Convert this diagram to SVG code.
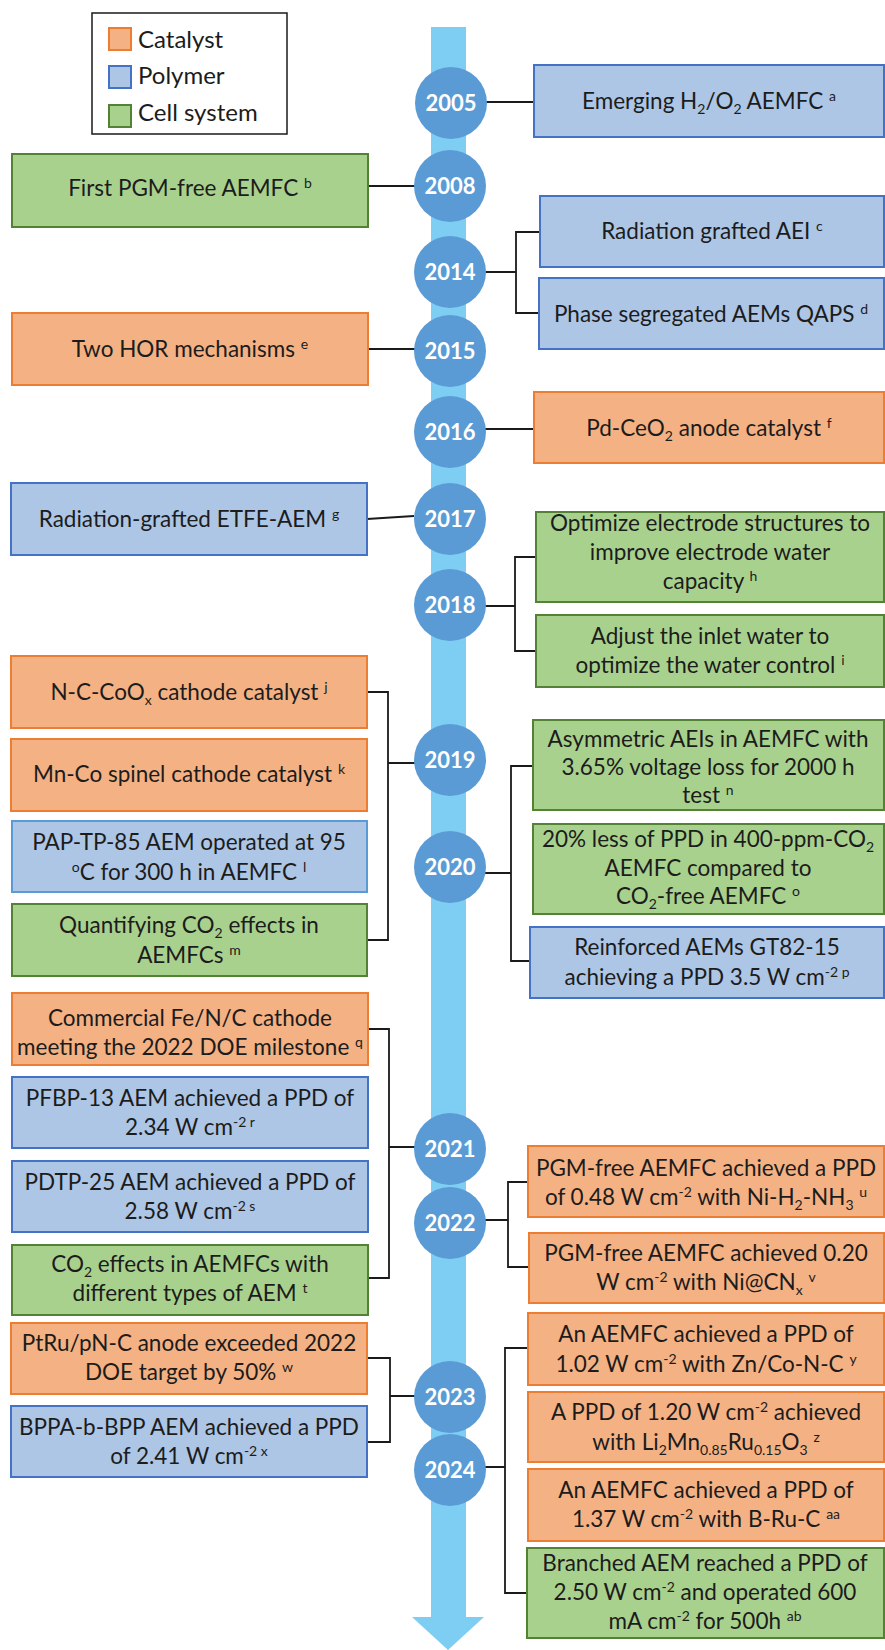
<svg xmlns="http://www.w3.org/2000/svg" width="885" height="1650" viewBox="0 0 885 1650">
<style>
.t{font-family:Lato,"Liberation Sans",sans-serif;font-size:22.5px;fill:#1c1c1c;text-anchor:middle}
.lg{font-family:Lato,"Liberation Sans",sans-serif;font-size:24px;fill:#1c1c1c}
.yr{font-family:Lato,"Liberation Sans",sans-serif;font-weight:bold;font-size:22px;fill:#ffffff;text-anchor:middle}
.cat{fill:#f4b183;stroke:#ed7d31;stroke-width:2}
.pol{fill:#adc6e6;stroke:#4472c4;stroke-width:2}
.pol2{fill:#adc6e6;stroke:#5b9bd5;stroke-width:2}
.cel{fill:#a9d18e;stroke:#548235;stroke-width:2}
.yc{fill:#5b9bd5}
.sp{font-size:14px;baseline-shift:8px}
.sb{font-size:14px;baseline-shift:-5px}
.cn{fill:none;stroke:#1a1a1a;stroke-width:1.8}
.bar{fill:#7ecef4}
</style>

<g id="legend">
<rect x="92" y="13" width="195" height="121" fill="#ffffff" stroke="#1a1a1a" stroke-width="1.5"/>
<rect x="109" y="28" width="22" height="22" class="cat"/>
<rect x="109" y="66" width="22" height="22" class="pol"/>
<rect x="109" y="105" width="22" height="22" class="cel"/>
<text class="lg" x="138" y="48">Catalyst</text>
<text class="lg" x="138" y="84">Polymer</text>
<text class="lg" x="138" y="121">Cell system</text>
</g>

<g id="timeline">
<rect x="431" y="27" width="35" height="1591" class="bar"/>
<polygon points="412,1617 484,1617 448,1650" class="bar"/>
</g>

<g id="connectors">
<path class="cn" d="M450,102 H534"/>
<path class="cn" d="M368,186 H450"/>
<path class="cn" d="M450,272 H516 M540,232 H516 V313 H539"/>
<path class="cn" d="M368,349 H450"/>
<path class="cn" d="M450,429 H534"/>
<path class="cn" d="M367,519 L414,516"/>
<path class="cn" d="M450,606 H515 M536,557 H515 V651 H536"/>
<path class="cn" d="M367,692 H388 V940 H367 M388,763 H450"/>
<path class="cn" d="M450,873 H511 M533,766 H511 V961 H530"/>
<path class="cn" d="M368,1029 H389 V1278 H368 M389,1147 H450"/>
<path class="cn" d="M450,1220 H508 M528,1182 H508 V1267 H529"/>
<path class="cn" d="M367,1358 H390 V1442 H367 M390,1396 H450"/>
<path class="cn" d="M450,1467 H505 M528,1348 H505 V1593 H527"/>
</g>

<g id="y2005"><circle cx="451" cy="103" r="36" class="yc"/><text class="yr" x="451" y="111">2005</text></g>
<g id="y2008"><circle cx="450" cy="186" r="36" class="yc"/><text class="yr" x="450" y="194">2008</text></g>
<g id="y2014"><circle cx="450" cy="272" r="36" class="yc"/><text class="yr" x="450" y="280">2014</text></g>
<g id="y2015"><circle cx="450" cy="351" r="36" class="yc"/><text class="yr" x="450" y="359">2015</text></g>
<g id="y2016"><circle cx="450" cy="432" r="36" class="yc"/><text class="yr" x="450" y="440">2016</text></g>
<g id="y2017"><circle cx="450" cy="519" r="36" class="yc"/><text class="yr" x="450" y="527">2017</text></g>
<g id="y2018"><circle cx="450" cy="605" r="36" class="yc"/><text class="yr" x="450" y="613">2018</text></g>
<g id="y2019"><circle cx="450" cy="760" r="36" class="yc"/><text class="yr" x="450" y="768">2019</text></g>
<g id="y2020"><circle cx="450" cy="867" r="36" class="yc"/><text class="yr" x="450" y="875">2020</text></g>
<g id="y2021"><circle cx="450" cy="1149" r="36" class="yc"/><text class="yr" x="450" y="1157">2021</text></g>
<g id="y2022"><circle cx="450" cy="1223" r="36" class="yc"/><text class="yr" x="450" y="1231">2022</text></g>
<g id="y2023"><circle cx="450" cy="1397" r="36" class="yc"/><text class="yr" x="450" y="1405">2023</text></g>
<g id="y2024"><circle cx="450" cy="1470" r="36" class="yc"/><text class="yr" x="450" y="1478">2024</text></g>

<g id="n2005"><rect x="534" y="65" width="350" height="72" class="pol"/>
<text class="t" x="709" y="109">Emerging H<tspan class="sb">2</tspan>/O<tspan class="sb">2</tspan>  AEMFC <tspan class="sp">a</tspan></text></g>

<g id="n2008"><rect x="12" y="154" width="356" height="73" class="cel"/>
<text class="t" x="190" y="196">First PGM-free AEMFC <tspan class="sp">b</tspan></text></g>

<g id="n2014a"><rect x="540" y="196" width="344" height="71" class="pol"/>
<text class="t" x="712" y="239">Radiation grafted AEI <tspan class="sp">c</tspan></text></g>

<g id="n2014b"><rect x="539" y="278" width="345" height="71" class="pol"/>
<text class="t" x="711" y="322">Phase segregated AEMs QAPS <tspan class="sp">d</tspan></text></g>

<g id="n2015"><rect x="12" y="313" width="356" height="72" class="cat"/>
<text class="t" x="190" y="357">Two HOR mechanisms <tspan class="sp">e</tspan></text></g>

<g id="n2016"><rect x="534" y="392" width="350" height="71" class="cat"/>
<text class="t" x="709" y="436">Pd-CeO<tspan class="sb">2</tspan> anode catalyst <tspan class="sp">f</tspan></text></g>

<g id="n2017"><rect x="11" y="483" width="356" height="72" class="pol"/>
<text class="t" x="189" y="527">Radiation-grafted ETFE-AEM <tspan class="sp">g</tspan></text></g>

<g id="n2018a"><rect x="536" y="512" width="348" height="90" class="cel"/>
<text class="t" x="710" y="531">Optimize electrode structures to</text>
<text class="t" x="710" y="560">improve  electrode water</text>
<text class="t" x="710" y="589">capacity <tspan class="sp">h</tspan></text></g>

<g id="n2018b"><rect x="536" y="615" width="348" height="72" class="cel"/>
<text class="t" x="710" y="644">Adjust the inlet water to</text>
<text class="t" x="710" y="673">optimize the water control <tspan class="sp">i</tspan></text></g>

<g id="n2019a"><rect x="11" y="656" width="356" height="72" class="cat"/>
<text class="t" x="189" y="700">N-C-CoO<tspan class="sb">x</tspan> cathode catalyst <tspan class="sp">j</tspan></text></g>

<g id="n2019b"><rect x="11" y="739" width="356" height="72" class="cat"/>
<text class="t" x="189" y="782">Mn-Co spinel cathode catalyst <tspan class="sp">k</tspan></text></g>

<g id="n2019c"><rect x="12" y="821" width="355" height="71" class="pol2"/>
<text class="t" x="189" y="850">PAP-TP-85 AEM operated at 95</text>
<text class="t" x="189" y="880"><tspan class="sp">o</tspan>C for 300 h in AEMFC <tspan class="sp">l</tspan></text></g>

<g id="n2019d"><rect x="12" y="904" width="355" height="72" class="cel"/>
<text class="t" x="189" y="933">Quantifying CO<tspan class="sb">2</tspan> effects in</text>
<text class="t" x="189" y="963">AEMFCs <tspan class="sp">m</tspan></text></g>

<g id="n2020a"><rect x="533" y="720" width="351" height="90" class="cel"/>
<text class="t" x="708" y="747">Asymmetric AEIs in AEMFC with</text>
<text class="t" x="708" y="775">3.65% voltage loss for 2000 h</text>
<text class="t" x="708" y="803">test <tspan class="sp">n</tspan></text></g>

<g id="n2020b"><rect x="533" y="824" width="351" height="90" class="cel"/>
<text class="t" x="708" y="847">20% less of PPD in 400-ppm-CO<tspan class="sb">2</tspan></text>
<text class="t" x="708" y="876">AEMFC compared to</text>
<text class="t" x="708" y="904">CO<tspan class="sb">2</tspan>-free AEMFC <tspan class="sp">o</tspan></text></g>

<g id="n2020c"><rect x="530" y="927" width="354" height="71" class="pol"/>
<text class="t" x="707" y="955">Reinforced AEMs GT82-15</text>
<text class="t" x="707" y="985">achieving a PPD 3.5 W cm<tspan class="sp">-2 p</tspan></text></g>

<g id="n2021a"><rect x="12" y="993" width="356" height="72" class="cat"/>
<text class="t" x="190" y="1026">Commercial Fe/N/C cathode</text>
<text class="t" x="190" y="1055">meeting the 2022 DOE milestone <tspan class="sp">q</tspan></text></g>

<g id="n2021b"><rect x="12" y="1077" width="356" height="71" class="pol"/>
<text class="t" x="190" y="1106">PFBP-13 AEM achieved a PPD of</text>
<text class="t" x="190" y="1135">2.34 W cm<tspan class="sp">-2 r</tspan></text></g>

<g id="n2021c"><rect x="12" y="1161" width="356" height="71" class="pol"/>
<text class="t" x="190" y="1190">PDTP-25 AEM achieved a PPD of</text>
<text class="t" x="190" y="1219">2.58 W cm<tspan class="sp">-2 s</tspan></text></g>

<g id="n2021d"><rect x="12" y="1245" width="356" height="70" class="cel"/>
<text class="t" x="190" y="1272">CO<tspan class="sb">2</tspan> effects in AEMFCs with</text>
<text class="t" x="190" y="1301">different types of AEM <tspan class="sp">t</tspan></text></g>

<g id="n2022a"><rect x="528" y="1146" width="356" height="71" class="cat"/>
<text class="t" x="706" y="1176">PGM-free AEMFC achieved a PPD</text>
<text class="t" x="706" y="1205">of 0.48 W cm<tspan class="sp">-2</tspan> with Ni-H<tspan class="sb">2</tspan>-NH<tspan class="sb">3</tspan> <tspan class="sp">u</tspan></text></g>

<g id="n2022b"><rect x="529" y="1233" width="355" height="70" class="cat"/>
<text class="t" x="706" y="1261">PGM-free AEMFC achieved 0.20</text>
<text class="t" x="706" y="1290">W cm<tspan class="sp">-2</tspan> with Ni@CN<tspan class="sb">x</tspan> <tspan class="sp">v</tspan></text></g>

<g id="n2023a"><rect x="11" y="1323" width="356" height="71" class="cat"/>
<text class="t" x="189" y="1351">PtRu/pN-C anode exceeded  2022</text>
<text class="t" x="189" y="1380">DOE target by 50% <tspan class="sp">w</tspan></text></g>

<g id="n2023b"><rect x="11" y="1406" width="356" height="71" class="pol"/>
<text class="t" x="189" y="1435">BPPA-b-BPP AEM achieved a PPD</text>
<text class="t" x="189" y="1464">of 2.41 W cm<tspan class="sp">-2 x</tspan></text></g>

<g id="n2024a"><rect x="528" y="1313" width="356" height="72" class="cat"/>
<text class="t" x="706" y="1342">An AEMFC achieved a PPD of</text>
<text class="t" x="706" y="1372">1.02 W cm<tspan class="sp">-2</tspan> with Zn/Co-N-C <tspan class="sp">y</tspan></text></g>

<g id="n2024b"><rect x="528" y="1392" width="356" height="70" class="cat"/>
<text class="t" x="706" y="1420">A PPD of 1.20 W cm<tspan class="sp">-2</tspan> achieved</text>
<text class="t" x="706" y="1450">with Li<tspan class="sb">2</tspan>Mn<tspan class="sb">0.85</tspan>Ru<tspan class="sb">0.15</tspan>O<tspan class="sb">3</tspan> <tspan class="sp">z</tspan></text></g>

<g id="n2024c"><rect x="528" y="1469" width="356" height="72" class="cat"/>
<text class="t" x="706" y="1498">An AEMFC achieved a PPD of</text>
<text class="t" x="706" y="1527">1.37 W cm<tspan class="sp">-2</tspan> with B-Ru-C <tspan class="sp">aa</tspan></text></g>

<g id="n2024d"><rect x="527" y="1548" width="357" height="90" class="cel"/>
<text class="t" x="705" y="1571">Branched AEM reached a PPD of</text>
<text class="t" x="705" y="1600">2.50 W cm<tspan class="sp">-2</tspan> and operated 600</text>
<text class="t" x="705" y="1629">mA cm<tspan class="sp">-2</tspan> for 500h <tspan class="sp">ab</tspan></text></g>
</svg>
